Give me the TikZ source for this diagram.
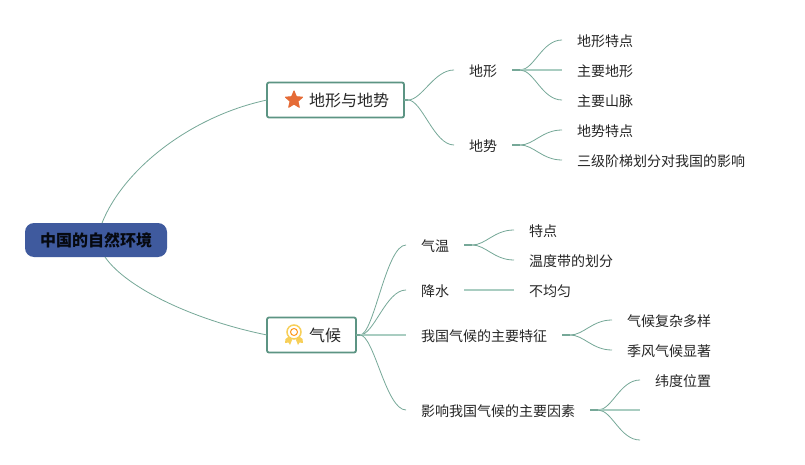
\documentclass[tikz,border=0pt]{standalone}
\usepackage{fontspec}
\setmainfont{Noto Sans CJK SC}
\usetikzlibrary{shapes.geometric}
\definecolor{teal1}{HTML}{76A898}
\definecolor{teal2}{HTML}{5C9483}
\definecolor{pale}{HTML}{A9CDC1}
\definecolor{rootblue}{HTML}{3F5A9E}
\definecolor{staror}{HTML}{E56B36}
\definecolor{medal}{HTML}{F7CF58}
\tikzset{
  leaf/.style={anchor=west,inner xsep=15pt,inner ysep=0pt,outer sep=0pt,font=\fontsize{14}{14}\selectfont,text=black!85,text height=14.6pt,text depth=0.7pt},
  topicbox/.style={draw=teal2,line width=1.8pt,rounded corners=2pt,fill=white,inner sep=0pt,outer sep=0pt,minimum height=35pt,font=\fontsize{16}{16}\selectfont,text=black!85},
  rootbox/.style={fill=rootblue,rounded corners=9pt,inner sep=0pt,outer sep=0pt,minimum width=142pt,minimum height=34pt,font=\fontsize{16}{16}\selectfont\bfseries,text=black!90!rootblue},
  link/.style={draw=teal1,line width=0.8pt},
  stub/.style={draw=teal1,line width=1.8pt},
  flat/.style={draw=pale,line width=1.8pt},
}
\newcommand{\curvelink}[3][8]{%
  \draw[stub] (#2.east) -- ([xshift=#1pt]#2.east);
  \draw[link] ([xshift=#1pt]#2.east) .. controls +(14,0) and ([xshift=-20pt]#3) .. (#3);
}
\newcommand{\flatlink}[2]{\draw[flat] (#1.east) -- (#2);}
\begin{document}
\begin{tikzpicture}[x=1pt,y=-1pt]
\useasboundingbox (0,0) rectangle (805,465);
\fill[white] (0,0) rectangle (805,465);
\node[rootbox] (root) at (96,240) {中国的自然环境};
\node[topicbox,minimum width=137pt,text width=137pt,align=left] (terrain) at (335.5,100) {\hspace*{42pt}地形与地势};
\node[topicbox,minimum width=89pt,text width=89pt,align=left] (climate) at (311.5,335) {\hspace*{42pt}气候};
\node[star,star points=5,star point ratio=2.2,fill=staror,draw=staror,line width=1pt,line join=round,minimum size=18pt,inner sep=0pt] (staricon) at (294,100) {};
% medal
\fill[medal] (285.5,339) -- (289.5,336) -- (292,340) -- (290,345) -- (288.5,342.5) -- (285,343) -- cycle;
\fill[medal] (302.5,339) -- (298.5,336) -- (296,340) -- (298,345) -- (299.5,342.5) -- (303,343) -- cycle;
\node[circle,draw=medal,fill=white,line width=1.5pt,minimum size=14pt,inner sep=0pt] (medalouter) at (294,332) {};
\node[circle,draw=orange!70!medal,line width=1pt,minimum size=7pt,inner sep=0pt] (medalinner) at (294,332) {};

\node[leaf] (a1) at (454,70) {地形};
\node[leaf] (a2) at (454,145) {地势};
\node[leaf] (a11) at (562,40) {地形特点};
\node[leaf] (a12) at (562,70) {主要地形};
\node[leaf] (a13) at (562,100) {主要山脉};
\node[leaf] (a21) at (562,130) {地势特点};
\node[leaf] (a22) at (562,160) {三级阶梯划分对我国的影响};

\node[leaf] (b1) at (406,245) {气温};
\node[leaf] (b2) at (406,290) {降水};
\node[leaf] (b3) at (406,335) {我国气候的主要特征};
\node[leaf] (b4) at (406,410) {影响我国气候的主要因素};
\node[leaf] (b11) at (514,230) {特点};
\node[leaf] (b12) at (514,260) {温度带的划分};
\node[leaf] (b21) at (514,290) {不均匀};
\node[leaf] (b31) at (612,320) {气候复杂多样};
\node[leaf] (b32) at (612,350) {季风气候显著};
\node[leaf] (b41) at (640,380) {纬度位置};
\coordinate (b42) at (640,410);
\coordinate (b43) at (640,440);

\draw[link] ([xshift=6pt]root.north) .. controls +(22,-55) and ([xshift=-75pt,yshift=-16pt]terrain.west) .. (terrain.west);
\draw[link] ([xshift=9pt]root.south) .. controls +(22,32) and ([xshift=-70pt,yshift=14pt]climate.west) .. (climate.west);

\curvelink[4]{terrain}{a1.west}
\curvelink[4]{terrain}{a2.west}
\curvelink{a1}{a11.west}
\flatlink{a1}{a12.west}
\curvelink{a1}{a13.west}
\curvelink{a2}{a21.west}
\curvelink{a2}{a22.west}

\curvelink[4]{climate}{b1.west}
\curvelink[4]{climate}{b2.west}
\flatlink{climate}{b3.west}
\curvelink[4]{climate}{b4.west}
\curvelink{b1}{b11.west}
\curvelink{b1}{b12.west}
\flatlink{b2}{b21.west}
\curvelink{b3}{b31.west}
\curvelink{b3}{b32.west}
\curvelink{b4}{b41.west}
\flatlink{b4}{b42}
\curvelink{b4}{b43}
\end{tikzpicture}
\end{document}
